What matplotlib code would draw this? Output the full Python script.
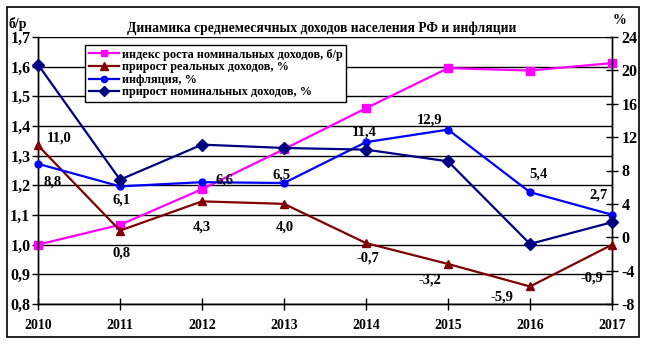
import matplotlib
matplotlib.use("Agg")
import matplotlib.pyplot as plt
from matplotlib.patches import Rectangle
from matplotlib.ticker import FuncFormatter, FixedLocator
from matplotlib.lines import Line2D

years = [2010, 2011, 2012, 2013, 2014, 2015, 2016, 2017]
index_nominal = [1.00, 1.067, 1.187, 1.322, 1.46, 1.595, 1.587, 1.612]
real_growth = [11.0, 0.8, 4.3, 4.0, -0.7, -3.2, -5.9, -0.9]
inflation = [8.8, 6.1, 6.6, 6.5, 11.4, 12.9, 5.4, 2.7]
nominal_growth = [20.7, 6.9, 11.1, 10.7, 10.5, 9.1, -0.8, 1.8]

legend_labels = ["индекс роста номинальных доходов, б/р",
                 "прирост реальных доходов, %",
                 "инфляция, %",
                 "прирост номинальных доходов, %"]
title = "Динамика среднемесячных доходов населения РФ и инфляции"

# label offsets in pixels (dx, dy) for inflation and real growth
infl_off = [(15, -18), (2, -14), (23, 2), (-2, 8), (-2, 10), (-18, 10), (8, 18), (-14, 20)]
real_off = [(21, 7), (2, -22), (0, -26), (1, -23), (2, -15), (-18, -16), (-28, -11), (-20, -33)]

plt.rcParams['font.family'] = ['Liberation Serif', 'DejaVu Serif']
plt.rcParams['font.weight'] = 'bold'

fig = plt.figure(figsize=(6.46, 3.44), dpi=100)
ax = fig.add_axes([38/646, 1-304/344, (612-38)/646, (304-37)/344])
ax2 = ax.twinx()

xs = list(range(len(years)))
ax.set_xlim(0, len(years)-1)
ax.set_ylim(0.8, 1.7)
ax2.set_ylim(-8, 24)

comma = FuncFormatter(lambda v, p: f"{v:.1f}".replace('.', ','))
ax.yaxis.set_major_locator(FixedLocator([0.8 + 0.1*i for i in range(10)]))
ax.yaxis.set_major_formatter(comma)
ax2.yaxis.set_major_locator(FixedLocator(list(range(-8, 25, 4))))
ax2.yaxis.set_major_formatter(FuncFormatter(lambda v, p: f"{int(v)}"))
ax.set_xticks(xs)
ax.set_xticklabels([str(y) for y in years])

ax.grid(axis='y', color='black', lw=1)
ax.set_axisbelow(True)
for s in ['top']:
    ax.spines[s].set_visible(False)
    ax2.spines[s].set_visible(False)
for a in (ax, ax2):
    for sp in a.spines.values():
        sp.set_linewidth(1)
ax.tick_params(axis='x', direction='inout', length=8, width=1, labelsize=10, pad=7)
ax.tick_params(axis='y', direction='out', length=4, width=1, labelsize=11.5, pad=1.5)
ax2.tick_params(axis='y', direction='inout', length=8, width=1, labelsize=11.5, pad=3)

ax.plot(xs, index_nominal, color='#FF00FF', lw=1.6, marker='s', ms=5.5, zorder=3, clip_on=False)
ax2.plot(xs, real_growth, color='#800000', lw=1.6, marker='^', ms=6, zorder=3, clip_on=False)
ax2.plot(xs, inflation, color='#0000FF', lw=1.6, marker='o', ms=5, zorder=3, clip_on=False)
ax2.plot(xs, nominal_growth, color='#000080', lw=1.6, marker='D', ms=6, zorder=4, clip_on=False)

for x, v, (dx, dy) in zip(xs, inflation, infl_off):
    ax2.annotate(f"{v:.1f}".replace('.', ','), (x, v), xytext=(dx, dy),
                 textcoords='offset pixels', ha='center', va='center', fontsize=10.5)
for x, v, (dx, dy) in zip(xs, real_growth, real_off):
    ax2.annotate(f"{v:.1f}".replace('.', ','), (x, v), xytext=(dx, dy),
                 textcoords='offset pixels', ha='center', va='center', fontsize=10.5)

handles = [Line2D([], [], color='#FF00FF', lw=1.6, marker='s', ms=5),
           Line2D([], [], color='#800000', lw=1.6, marker='^', ms=5.5),
           Line2D([], [], color='#0000FF', lw=1.6, marker='o', ms=4.5),
           Line2D([], [], color='#000080', lw=1.6, marker='D', ms=5.5)]
leg = ax2.legend(handles, legend_labels, loc='upper left',
                 bbox_to_anchor=((85-38)/574, (304-45)/267),
                 fancybox=False, framealpha=1, edgecolor='black',
                 prop={'size': 8.8, 'weight': 'bold'}, handlelength=2.5,
                 handletextpad=0.2, labelspacing=0.05, borderpad=0.3,
                 borderaxespad=0)
leg.get_frame().set_linewidth(1)
leg.set_zorder(10)

fig.text(322/646, 1-28/344, title, ha='center', va='center', fontsize=9.8, weight='bold')
fig.text(18/646, 1-24/344, "б/р", ha='center', va='center', fontsize=10, weight='bold')
fig.text(620/646, 1-21/344, "%", ha='center', va='center', fontsize=10, weight='bold')

fig.patches.append(Rectangle((7/646, 1-337/344), (639-7)/646, (337-7)/344,
                             transform=fig.transFigure, fill=False, edgecolor='black', lw=1.2))

fig.savefig("out.png", dpi=100)
